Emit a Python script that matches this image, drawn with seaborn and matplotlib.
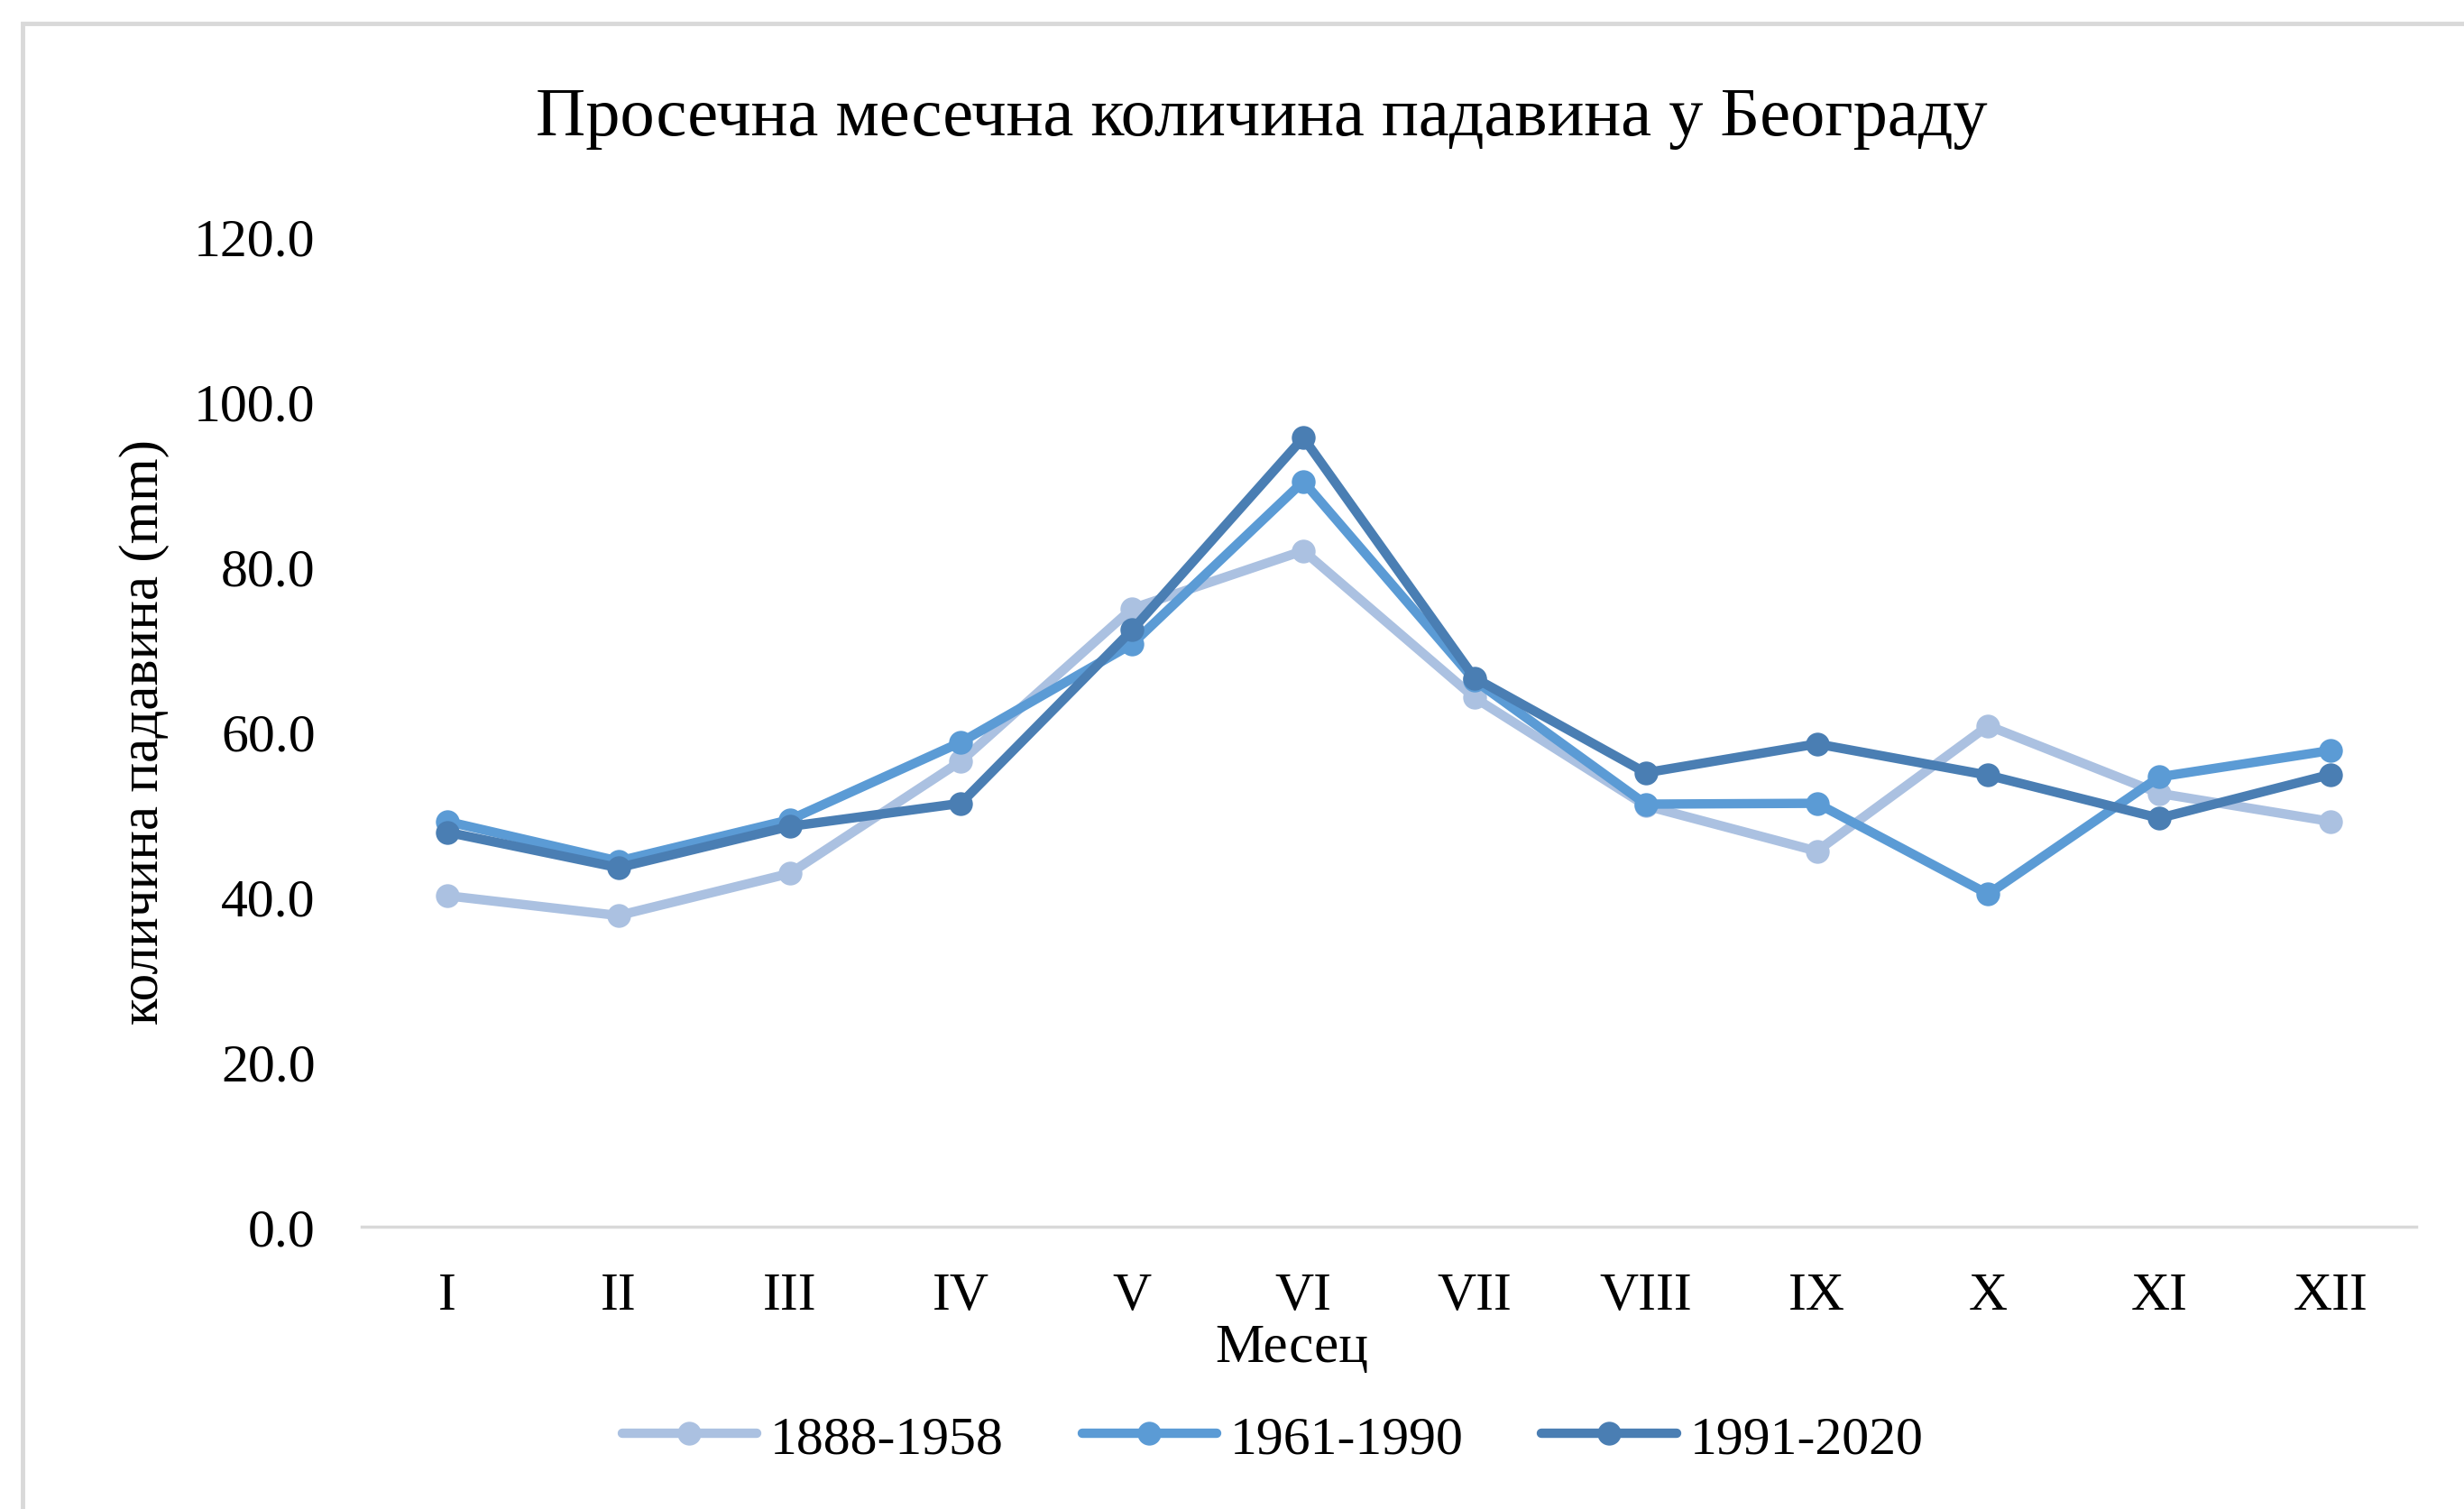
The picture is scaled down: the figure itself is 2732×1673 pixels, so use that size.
import matplotlib.pyplot as plt
import matplotlib.patches as mpatches
import seaborn as sns
import pandas as pd
import numpy as np

# monthly precipitation in Belgrade (mm)
months = ["I", "II", "III", "IV", "V", "VI", "VII", "VIII", "IX", "X", "XI", "XII"]
periods = ["1888-1958", "1961-1990", "1991-2020"]
p_1888_1958 = [40.1, 37.7, 42.8, 56.4, 74.9, 81.9, 64.1, 51.0, 45.5, 60.7, 52.5, 49.1]
p_1961_1990 = [49.1, 44.3, 49.3, 58.7, 70.6, 90.3, 66.2, 51.2, 51.3, 40.3, 54.5, 57.7]
p_1991_2020 = [47.8, 43.5, 48.5, 51.3, 72.3, 95.6, 66.5, 55.0, 58.5, 54.7, 49.5, 54.8]
colors = ["#abc1e1", "#5b9bd5", "#4a7eb3"]

df = pd.DataFrame({
    "month": np.tile(np.arange(len(months)), len(periods)),
    "value": p_1888_1958 + p_1961_1990 + p_1991_2020,
    "period": np.repeat(periods, len(months)),
})

sns.set_theme(style="white")
plt.rcParams["font.family"] = ["Liberation Serif", "DejaVu Serif"]
plt.rcParams["text.color"] = "black"

W, H = 2732, 1674
fig = plt.figure(figsize=(W / 100, H / 100), dpi=100)
ax = fig.add_axes([401 / W, 1 - 1361 / H, (2679 - 401) / W, (1361 - 263) / H])

sns.lineplot(
    data=df, x="month", y="value", hue="period", hue_order=periods,
    palette=colors, marker="o", markersize=19, markeredgewidth=0,
    linewidth=7.5, ax=ax, legend=False, sort=False,
)

ax.set_xlim(-0.5, len(months) - 0.5)
ax.set_ylim(0, 120)
ax.set_xticks(np.arange(len(months)))
ax.set_xticklabels(months)
ax.set_yticks(np.arange(0, 121, 20))
ax.set_yticklabels([f"{v:.1f}" for v in np.arange(0, 121, 20)])
ax.tick_params(axis="both", length=0, labelsize=43, colors="#000000")
ax.tick_params(axis="y", pad=37)
ax.tick_params(axis="x", pad=36)

for s in ["top", "right", "left"]:
    ax.spines[s].set_visible(False)
ax.spines["bottom"].set_color("#d9d9d9")
ax.spines["bottom"].set_linewidth(2.5)

ax.set_ylabel("количина падавина (mm)", fontsize=44, color="black")
ax.yaxis.set_label_coords(-0.1058, 0.5)
ax.yaxis.label.set_va("center")
ax.set_xlabel("Месец", fontsize=44, color="black")
ax.xaxis.set_label_coords(0.4526, -0.122)
ax.xaxis.label.set_va("center")

fig.text(1399 / W, 1 - 131 / H, "Просечна месечна количина падавина у Београду",
         fontsize=55, ha="center", va="center", color="black")

# legend under the axis
leg = ax.legend(
    handles=ax.lines[:3], labels=periods, ncol=3, frameon=False,
    loc="center", bbox_to_anchor=(0.5165, 0.046), bbox_transform=fig.transFigure,
    fontsize=43, handlelength=2.5, handletextpad=0.25, columnspacing=1.45,
)
for t in leg.get_texts():
    t.set_color("black")

# chart-area border (only top and left edges are inside the picture)
fig.patches.append(mpatches.Rectangle(
    (25 / W, -0.2), 1.2, 1.2 - 27 / H, transform=fig.transFigure,
    fill=False, edgecolor="#d9d9d9", linewidth=3.5, zorder=0,
))

fig.savefig("out.png", dpi=100)
